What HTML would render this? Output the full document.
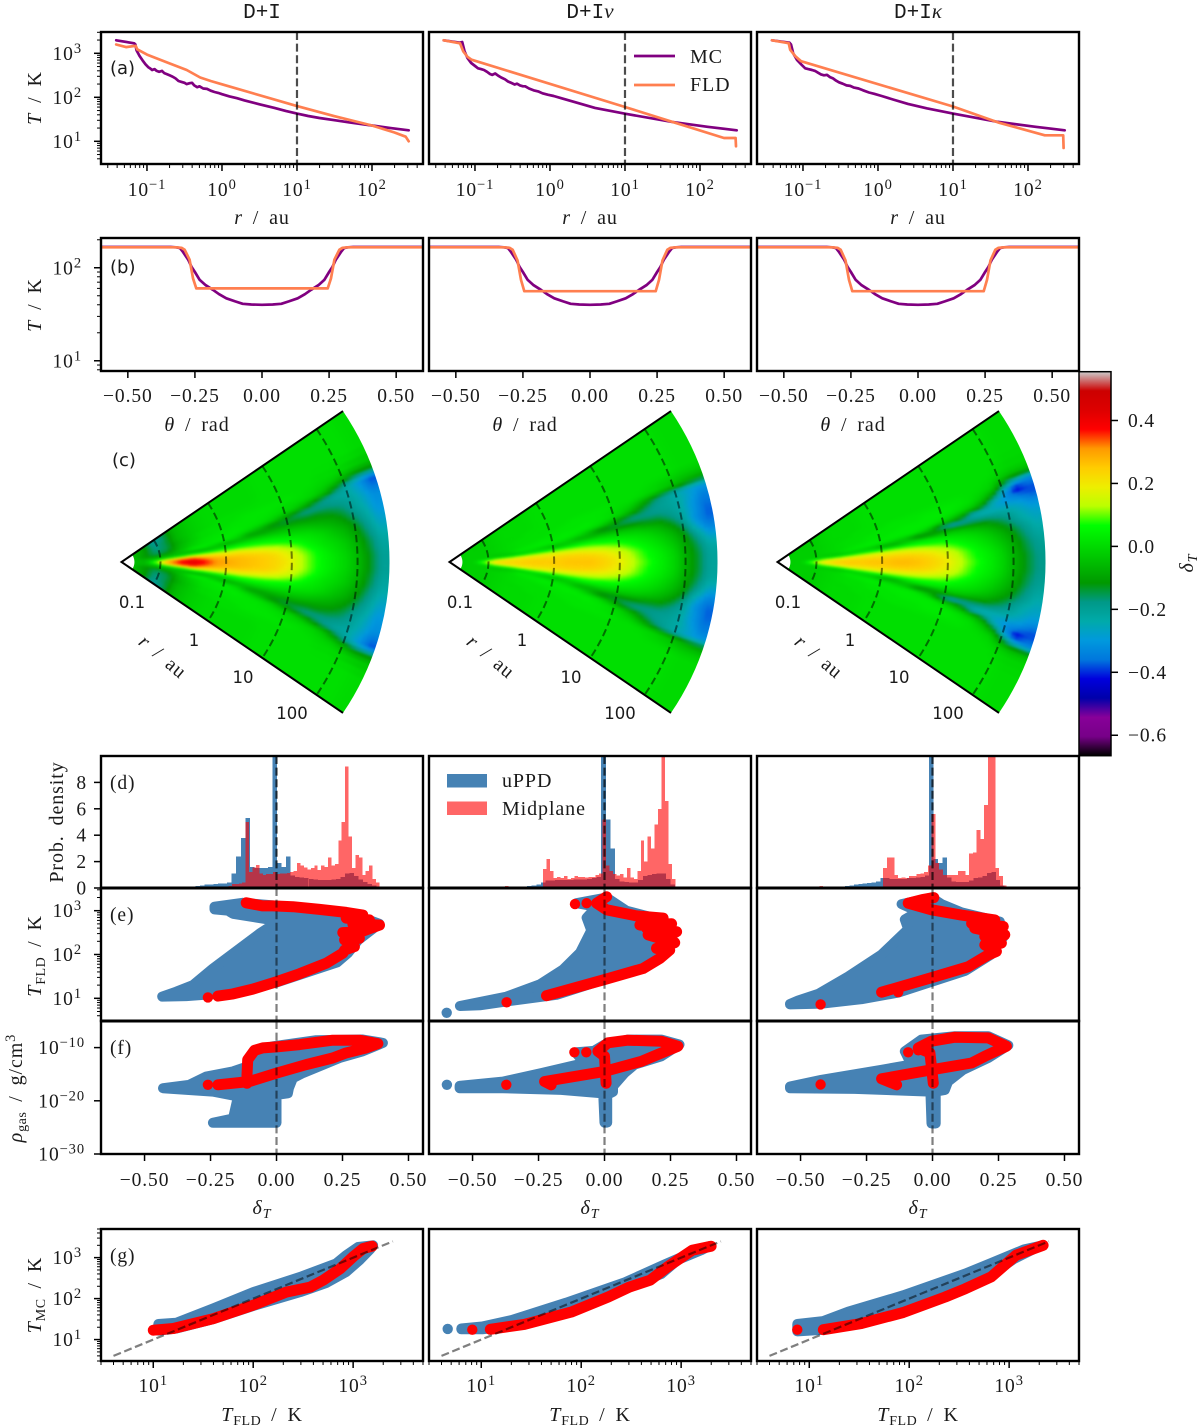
<!DOCTYPE html>
<html lang="en">
<head>
<meta charset="utf-8">
<title>Temperature comparison of D+I, D+Iν and D+Iκ</title>
<style>
html,body{margin:0;padding:0;background:#fff}
svg{display:block}
text{font-family:"Liberation Serif","DejaVu Serif",serif;fill:#1a1a1a}
.tick{font-size:19.5px;letter-spacing:.9px}
.axl{font-size:20px;letter-spacing:.9px;word-spacing:4px}
.sans{font-family:"DejaVu Sans","Liberation Sans",sans-serif;font-size:16px}
.mono{font-family:"Liberation Mono","DejaVu Sans Mono",monospace;font-size:21px}
</style>
</head>
<body>
<svg id="fig" xmlns="http://www.w3.org/2000/svg" width="1200" height="1428" viewBox="0 0 1200 1428">
<defs id="defs">
<filter id="soft" filterUnits="userSpaceOnUse" x="0" y="380" width="1100" height="370" color-interpolation-filters="sRGB"><feGaussianBlur stdDeviation="1.3"/></filter>
</defs>
</svg>
<script>
/* ---------- radial profiles, pairs of [log10 r/au, log10 T/K], one list per column ---------- */
const profileMC=[
[[-1.41,3.295],[-1.17,3.227],[-1.155,3.2],[-1.14,3.07],[-1.10,2.94],[-1.06,2.84],[-1.02,2.75],[-.98,2.68],[-.96,2.66],[-.93,2.62],[-.90,2.64],[-.87,2.6],[-.84,2.58],[-.8,2.6],[-.77,2.55],[-.74,2.53],[-.7,2.5],[-.66,2.47],[-.62,2.43],[-.58,2.37],[-.54,2.35],[-.5,2.33],[-.47,2.3],[-.43,2.32],[-.4,2.33],[-.37,2.27],[-.33,2.23],[-.3,2.25],[-.25,2.2],[-.2,2.19],[-.15,2.15],[-.1,2.12],[-.05,2.1],[0,2.07],[.1,2.02],[.2,1.98],[.3,1.93],[.5,1.84],[.7,1.76],[.85,1.69],[1,1.63],[1.15,1.575],[1.3,1.53],[1.5,1.48],[1.7,1.43],[2,1.36],[2.25,1.3],[2.49,1.25]],
[[-1.417,3.295],[-1.2,3.24],[-1.17,3.257],[-1.14,3.05],[-1.1,2.89],[-1.05,2.78],[-.99,2.7],[-.96,2.66],[-.92,2.64],[-.88,2.62],[-.84,2.58],[-.8,2.53],[-.77,2.51],[-.73,2.54],[-.69,2.49],[-.65,2.45],[-.6,2.41],[-.56,2.36],[-.52,2.33],[-.47,2.29],[-.44,2.31],[-.4,2.27],[-.36,2.25],[-.33,2.25],[-.28,2.2],[-.22,2.16],[-.15,2.13],[-.1,2.09],[-.03,2.06],[.05,2.03],[.15,1.98],[.33,1.89],[.6,1.76],[1,1.627],[1.63,1.44],[2.1,1.33],[2.49,1.25]],
[[-1.413,3.295],[-1.18,3.24],[-1.16,3.2],[-1.13,3.0],[-1.08,2.85],[-1.02,2.74],[-.97,2.66],[-.93,2.64],[-.88,2.62],[-.84,2.6],[-.8,2.56],[-.76,2.52],[-.72,2.5],[-.68,2.51],[-.64,2.46],[-.6,2.43],[-.56,2.38],[-.52,2.34],[-.47,2.31],[-.42,2.27],[-.37,2.26],[-.32,2.22],[-.26,2.2],[-.2,2.16],[-.12,2.11],[-.05,2.08],[.05,2.03],[.2,1.95],[.4,1.85],[.65,1.75],[1,1.63],[1.6,1.44],[2.1,1.33],[2.49,1.25]]
];
const profileFLD=[
[[-1.41,3.2],[-1.28,3.14],[-1.15,3.17],[-1.13,3.09],[-1,2.97],[-.88,2.89],[-.7,2.77],[-.47,2.62],[-.29,2.45],[-.15,2.37],[0,2.295],[1,1.8],[1.5,1.57],[2,1.36],[2.3,1.2],[2.45,1.105],[2.49,1.0]],
[[-1.417,3.295],[-1.2,3.227],[-1.157,3.045],[-1.1,2.92],[-1.047,2.855],[1,1.78],[1.633,1.44],[2.32,1.075],[2.475,1.075],[2.48,.886]],
[[-1.413,3.295],[-1.19,3.23],[-1.17,3.08],[-1.1,2.93],[-1.027,2.82],[1,1.79],[1.6,1.43],[2.224,1.136],[2.47,1.136],[2.475,.85]]
];
/* ---------- angular profiles ---------- */
const thetaMC=[-.6,-.34,-.32,-.306,-.296,-.275,-.263,-.25,-.232,-.21,-.183,-.16,-.133,-.1,-.072,-.04,0,.04,.072,.1,.133,.16,.183,.21,.232,.25,.263,.275,.296,.306,.32,.34,.6];
const tempMC=[167,167,166,163,150,122,103,90,74,65,58,52,47,43.5,41,40.3,40,40.3,41,43.5,47,52,58,65,74,90,103,122,150,163,166,167,167];
const thetaFLD=[-.6,-.32,-.3,-.288,-.27,-.257,-.245,.245,.257,.27,.288,.3,.32,.6];
const tempFLD=[
[166,166,164,156,122,77,60,60,77,122,156,164,166,166],
[166,166,164,156,120,74,56,56,74,120,156,164,166,166],
[166,166,164,156,120,74,56,56,74,120,156,164,166,166]
];
/* ---------- disc heatmap: delta_T x 100 by angle (rows) and log10 r (columns), mirrored about the midplane ---------- */
const wedgeTheta=[0,.03,.06,.09,.12,.15,.18,.21,.24,.27,.30,.33,.36,.39,.45,.5,.55,.6];
const wedgeLogR=[-1.4,-1.22,-1.04,-.86,-.68,-.5,-.32,-.14,.04,.22,.4,.58,.76,.94,1.12,1.3,1.48,1.66,1.84,2.02,2.2,2.38];
const wedgeDI=[
[-5,-6,14,30,38,42,37,31,29,27,26,25,23,20,14,9,5,2,-1,-6,-13,-20],
[-5,-6,10,28,36,40,35,30,28,27,26,25,23,19,14,9,5,2,-1,-6,-13,-20],
[-5,-6,3,18,27,32,28,26,25,25,24,23,21,17,12,8,4,1,-2,-7,-14,-21],
[-5,-6,-3,3,10,16,17,18,18,19,18,17,15,12,9,5,2,0,-3,-8,-15,-22],
[-5,-7,-5,-5,-3,2,4,6,8,9,9,9,8,7,5,3,1,-2,-5,-10,-17,-24],
[-5,-8,-8,-7,-5,-7,-7,-4,0,3,4,4,4,3,2,1,-1,-4,-7,-12,-19,-26],
[-5,-10,-12,-9,-4,3,3,-2,-8,-6,-3,-2,-2,-2,-2,-3,-5,-7,-10,-15,-21,-28],
[-5,-11,-15,-12,-5,0,2,3,3,-1,-10,-10,-8,-7,-7,-8,-9,-10,-13,-18,-23,-30],
[-5,-11,-16,-14,-6,-2,1,2,3,2,-1,-6,-13,-15,-14,-14,-13,-14,-16,-20,-25,-31],
[-5,-11,-16,-14,-6,-2,1,2,2,3,2,1,-1,-7,-14,-18,-18,-18,-19,-21,-26,-32],
[-5,-11,-17,-15,-7,-3,0,1,2,2,2,2,1,0,-1,-6,-14,-19,-22,-23,-28,-36],
[-5,-11,-17,-15,-7,-3,0,1,1,2,2,2,2,1,0,0,-1,-5,-14,-22,-30,-38],
[-5,-11,-18,-15,-7,-3,0,1,1,1,2,2,2,2,2,1,0,-1,-3,-8,-13,-14],
[-5,-10,-18,-15,-6,-3,-1,0,1,1,1,1,1,1,1,1,1,0,0,-1,-3,-4],
[-5,-10,-18,-15,-6,-3,-1,0,0,0,0,0,1,1,1,1,1,1,1,1,1,0],
[-5,-10,-19,-16,-6,-3,-1,0,0,0,0,0,1,1,1,1,1,1,1,1,1,0],
[-5,-10,-19,-16,-6,-3,-1,0,0,0,0,0,1,1,1,1,1,1,1,1,1,0],
[-5,-10,-19,-16,-6,-3,-1,0,0,0,0,0,1,1,1,1,1,1,1,1,1,0]
];
const wedgeDInu=[
[-2,-2,12,22,23,24,25,25,25,26,26,26,24,21,16,11,7,3,-1,-8,-14,-21],
[-2,-2,9,20,22,23,24,24,24,25,25,25,23,20,15,10,6,3,-1,-8,-14,-21],
[-2,-2,3,13,17,20,21,21,22,23,23,22,20,17,13,9,5,2,-2,-9,-15,-22],
[-2,-2,-1,2,5,10,13,15,16,16,16,15,14,12,9,6,3,0,-4,-10,-17,-25],
[-2,-2,-2,-3,-4,-3,0,3,6,8,9,9,8,7,5,3,1,-2,-6,-12,-21,-30],
[-2,-2,-2,-3,-1,3,1,-3,-6,-3,1,3,3,2,1,0,-2,-5,-9,-16,-27,-35],
[-2,-2,-2,-2,0,2,3,3,2,-1,-7,-7,-5,-4,-4,-5,-7,-9,-14,-20,-31,-37],
[-2,-2,-2,-1,0,1,2,3,3,3,1,-5,-14,-15,-14,-14,-15,-15,-18,-22,-30,-37],
[-2,-2,-2,-1,0,1,1,2,2,3,3,2,0,-6,-15,-18,-18,-19,-20,-23,-30,-36],
[-2,-2,-2,-1,0,1,1,1,2,2,2,3,2,1,-2,-8,-15,-19,-21,-23,-28,-34],
[-2,-2,-2,-1,0,1,1,1,1,2,2,2,2,1,0,-2,-8,-15,-20,-24,-28,-30],
[-2,-2,-2,-1,0,0,1,1,1,1,2,2,2,2,1,1,0,-1,-3,-5,-8,-10],
[-2,-2,-2,-1,0,0,1,1,1,1,1,1,1,1,1,1,1,0,-1,-2,-3,-3],
[-2,-2,-2,-1,0,0,0,1,1,1,1,1,1,1,1,1,1,1,1,1,0,0],
[-2,-2,-2,-1,0,0,0,1,1,1,1,1,1,1,1,1,1,1,1,1,0,0],
[-2,-2,-2,-1,0,0,0,1,1,1,1,1,1,1,1,1,1,1,1,1,0,0],
[-2,-2,-2,-1,0,0,0,1,1,1,1,1,1,1,1,1,1,1,1,1,0,0],
[-2,-2,-2,-1,0,0,0,1,1,1,1,1,1,1,1,1,1,1,1,1,0,0]
];
const wedgeDIkappa=[
[-2,-2,12,20,24,25,25,26,26,27,27,26,24,21,16,11,7,3,-1,-7,-13,-18],
[-2,-2,9,18,22,24,24,25,25,26,26,25,23,20,15,10,6,3,-1,-7,-13,-18],
[-2,-2,3,12,16,19,20,21,22,23,23,22,20,17,13,9,5,2,-2,-8,-14,-19],
[-2,-2,-1,2,5,10,13,15,16,16,16,15,14,12,9,6,3,0,-4,-9,-15,-20],
[-2,-2,-2,-3,-4,-3,0,3,5,7,8,8,7,7,5,3,1,-2,-6,-11,-17,-22],
[-2,-2,-2,-2,-1,2,0,-3,-9,-8,-2,2,3,2,1,0,-2,-5,-9,-14,-19,-24],
[-2,-2,-2,-1,0,2,3,3,2,-1,-5,-14,-13,-8,-5,-6,-8,-10,-14,-18,-23,-26],
[-2,-2,-2,-1,0,1,2,3,3,3,3,2,-4,-18,-22,-20,-18,-18,-19,-21,-25,-28],
[-2,-2,-2,-1,0,1,1,2,2,3,3,3,3,1,-4,-12,-24,-26,-26,-26,-28,-32],
[-2,-2,-2,-1,0,1,1,2,2,2,3,3,3,3,2,0,-4,-12,-27,-32,-34,-38],
[-2,-2,-2,-1,0,1,1,1,2,2,2,2,3,3,3,2,1,-3,-12,-30,-44,-38],
[-2,-2,-2,-1,0,0,1,1,1,2,2,2,2,2,2,2,1,0,-2,-14,-26,-32],
[-2,-2,-2,-1,0,0,1,1,1,1,1,1,1,1,1,1,1,1,0,-3,-6,-6],
[-2,-2,-2,-1,0,0,0,1,1,1,1,1,1,1,1,1,1,1,1,0,-1,-1],
[-2,-2,-2,-1,0,0,0,1,1,1,1,1,1,1,1,1,1,1,1,1,0,0],
[-2,-2,-2,-1,0,0,0,1,1,1,1,1,1,1,1,1,1,1,1,1,0,0],
[-2,-2,-2,-1,0,0,0,1,1,1,1,1,1,1,1,1,1,1,1,1,0,0],
[-2,-2,-2,-1,0,0,0,1,1,1,1,1,1,1,1,1,1,1,1,1,0,0]
];
const wedgeRadiusLabels=['0.1','1','10','100'];
/* ---------- probability-density histograms ---------- */
const histBlueStart=[-.4445,-.592,-.55];
const histBlueWidth=[.01717,.01755,.0168];
const histBlue=[
[.01,.01,.01,.02,.03,.04,.06,.1,.15,.2,.25,.28,.3,.33,.36,.42,1.1,2.4,3.8,5.3,1.6,1.5,1.5,1.5,1.6,40,1.9,1.6,2.4,.95,.85,.8,.75,.7,.65,.6,.6,.6,.65,.7,.85,1.1,1.15,.9,.65,.45,.3,.2,.1,.05],
[.01,.01,.01,.01,.01,.01,.01,.01,.01,.01,.01,.01,.02,.04,.07,.1,.13,.17,.2,.28,.4,.55,.55,.6,.6,.6,.6,.65,.65,.65,.7,.75,.85,40,5.2,3.0,.7,.5,.45,.42,.4,.6,.9,1.0,1.05,1.1,1.1,.7,.25,.05],
[.01,.01,.01,.01,.01,.01,.01,.01,.01,.03,.06,.09,.12,.15,.2,.25,.3,.33,.38,.42,.5,.75,.75,.7,.7,.7,.7,.75,.75,.8,.85,.95,40,2.2,1.9,2.3,.8,.5,.45,.45,.45,.55,.75,.8,.9,1.15,1.2,.6,.2,.05]
];
const histRedStart=[-.26,-.3775,-.429];
const histRedWidth=[.013,.0132,.0142];
const histRed=[
[.08,.1,.1,.1,.12,.12,.15,.3,.3,.35,.4,5.0,1.2,1.55,1.75,1.1,1.0,1.05,1.05,1.2,1.05,1.1,1.1,1.15,1.2,1.3,1.9,1.7,1.55,1.4,1.5,1.7,1.35,1.7,1.6,2.3,1.7,1.8,3.6,5.0,9.2,3.9,1.5,2.5,2.3,1.0,1.3,1.7,.7,.4],
[.15,0,0,0,0,0,0,0,0,0,0,1.45,2.2,1.3,.75,.85,.75,.9,.7,.75,.9,.85,.85,.8,.85,.85,1.0,1.1,5.2,1.7,1.3,1.05,.95,1.05,.8,1.5,.8,.7,1.3,3.6,2.0,3.9,3.0,4.8,6.0,10.5,6.6,1.8,.7,.1],
[.15,0,0,0,0,0,0,0,0,0,0,0,0,0,0,0,0,1.5,2.3,2.3,1.0,.75,.8,.75,.9,.9,1.05,1.1,1.2,1.7,5.6,1.9,1.4,1.0,1.0,1.0,1.0,1.3,1.3,1.0,2.6,2.7,4.4,3.7,6.3,10.5,10.5,1.5,.9,.2]
];
const probTicks=[0,2,4,6,8];
const deltaTicks=[-.5,-.25,0,.25,.5];
/* ---------- scatter outlines: [delta_T, log10 T_FLD] ---------- */
const uppdTemp=[
[[-.235,3.09],[-.128,3.18],[.087,3.07],[.3,2.9],[.39,2.7],[.31,2.33],[.27,2.03],[.23,1.82],[0,1.36],[-.165,1.13],[-.342,1.05],[-.433,1.04],[-.38,1.15],[-.317,1.3],[-.241,1.68],[-.064,2.48],[-.02,2.65],[-.02,2.79],[-.165,2.93],[-.184,3.0],[-.235,3.03]],
[[-.548,.825],[-.371,1.04],[-.245,1.32],[-.157,1.66],[-.093,2.04],[-.05,2.55],[-.068,2.84],[-.03,3.09],[-.106,3.17],[.008,3.3],[.083,3.0],[.21,2.8],[.268,2.52],[.23,2.18],[.19,1.9],[-.005,1.42],[-.182,1.08],[-.346,.95],[-.472,.84]],
[[-.54,.87],[-.509,.95],[-.433,1.1],[-.319,1.5],[-.193,2.0],[-.092,2.58],[-.105,2.8],[-.054,2.98],[-.117,3.15],[-.004,3.3],[.034,3.15],[.11,2.96],[.255,2.75],[.27,2.41],[.22,1.99],[.125,1.63],[-.13,1.13],[-.269,.98],[-.42,.88],[-.54,.86]]
];
const uppdTempDots=[[],[[-.598,.67]],[]];
const midTemp=[
[[-.222,1.05],[-.165,1.1],[-.09,1.21],[0,1.38],[.087,1.56],[.188,1.8],[.251,2.03],[.258,2.1],[.295,2.18],[.258,2.33],[.314,2.37],[.251,2.5],[.321,2.52],[.39,2.67],[.289,2.7],[.352,2.79],[.264,2.83],[.327,2.9],[.264,2.96],[.163,3.03],[.062,3.09],[-.014,3.11],[-.052,3.11],[-.09,3.15],[-.115,3.18]],
[[-.22,1.06],[-.005,1.42],[.146,1.68],[.21,1.91],[.247,2.1],[.197,2.14],[.266,2.27],[.165,2.45],[.254,2.47],[.273,2.52],[.159,2.6],[.254,2.7],[.134,2.67],[.222,2.83],[.121,2.88],[.008,3.02],[-.03,3.17],[.008,3.32]],
[[-.193,1.14],[-.004,1.47],[.135,1.72],[.211,1.99],[.242,2.07],[.198,2.22],[.261,2.26],[.198,2.41],[.274,2.45],[.16,2.6],[.268,2.64],[.148,2.71],[.236,2.79],[.11,2.9],[-.004,3.02],[-.092,3.17],[-.04,3.25],[.005,3.3]]
];
const midTempDots=[[[-.26,1.02]],[[-.371,.91],[-.112,3.15],[-.068,3.17]],[[-.424,.86],[-.13,1.14]]];
/* ---------- scatter outlines: [delta_T, log10 rho_gas] ---------- */
const uppdRho=[
[[-.43,-17.64],[-.33,-17],[-.266,-15.43],[-.165,-14.48],[-.109,-13.54],[-.09,-11],[-.014,-9.75],[.15,-8.61],[.327,-8.48],[.403,-9.12],[.327,-10.69],[.239,-11.96],[.1,-14.8],[.062,-15.75],[.047,-17.64],[.043,-18.59],[0,-18.9],[0,-24.14],[-.241,-24.14],[-.165,-23.32],[-.146,-19.2],[-.241,-18.27]],
[[-.549,-17.2],[-.385,-16.4],[-.24,-14.8],[-.076,-12.9],[-.11,-10.9],[-.04,-10.6],[0,-9.43],[.088,-8.5],[.215,-8.5],[.284,-9.43],[.215,-11.64],[.114,-13.2],[.076,-14.8],[.032,-17.3],[.032,-18.3],[.01,-18.9],[.01,-24.1],[0,-24.1],[-.005,-18.6],[-.164,-17.95],[-.385,-17.64],[-.549,-17.64]],
[[-.54,-17.32],[-.42,-16.06],[-.193,-14.17],[-.08,-13.2],[-.105,-10.7],[-.042,-8.5],[.085,-7.85],[.211,-7.85],[.287,-9.56],[.211,-11.96],[.116,-14.17],[.059,-16.38],[.047,-17.95],[.012,-18.27],[.012,-24.27],[-.004,-24.27],[-.008,-18.27],[-.294,-17.76],[-.54,-17.64]]
];
const uppdRhoDots=[[],[[-.597,-17]],[]];
const midRho=[
[[-.222,-17],[-.102,-16.38],[0,-14.8],[.112,-13.2],[.213,-11.96],[.264,-11],[.34,-10.06],[.384,-9.24],[.314,-8.6],[.213,-8.6],[.087,-9.43],[0,-9.87],[-.052,-10.06],[-.083,-10.5],[-.109,-12.27],[-.112,-15.1],[-.112,-16.7]],
[[-.202,-17],[-.227,-16.38],[0,-14.48],[.139,-12.6],[.202,-11.3],[.278,-9.75],[.215,-8.8],[.088,-8.6],[.013,-9.1],[-.025,-10.7],[0,-11.64],[.006,-16.7]],
[[-.136,-17],[-.193,-15.87],[-.004,-14.17],[.148,-12.9],[.198,-11.64],[.28,-9.75],[.211,-8.17],[.085,-8.04],[-.004,-8.8],[-.054,-10.06],[-.01,-11],[.003,-16.7]]
];
const midRhoDots=[[[-.26,-17]],[[-.372,-17],[-.114,-10.88],[-.069,-10.88]],[[-.424,-16.94],[-.092,-10.88],[-.054,-10.5]]];
/* ---------- T_MC against T_FLD: [log10 T_FLD, log10 T_MC] ---------- */
const uppdCompare=[
[[1.05,1.38],[1.23,1.41],[1.6,1.76],[2,2.16],[2.47,2.53],[2.83,2.86],[2.93,3.06],[3.05,3.26],[3.2,3.3],[3.17,3.2],[3.07,2.95],[2.93,2.65],[2.73,2.38],[2.47,2.16],[2,1.82],[1.6,1.5],[1.23,1.27],[1.05,1.22]],
[[.8,1.27],[1.01,1.32],[1.31,1.48],[1.85,1.9],[2.44,2.4],[2.82,2.82],[3.16,3.18],[3.28,3.28],[3.2,3.18],[2.97,2.95],[2.8,2.6],[2.48,2.28],[1.9,1.67],[1.43,1.37],[1.01,1.25],[.8,1.25]],
[[.88,1.38],[1.14,1.45],[1.39,1.68],[1.94,2.08],[2.56,2.61],[2.82,2.87],[3.15,3.2],[3.3,3.28],[3.24,3.2],[3.05,2.97],[2.84,2.62],[2.56,2.24],[1.94,1.66],[1.52,1.39],[1.14,1.24],[.88,1.2]]
];
const uppdCompareDots=[[],[[.664,1.26]],[]];
const midCompare=[
[[1,1.23],[1.2,1.27],[1.6,1.51],[2,1.84],[2.33,2.16],[2.57,2.28],[2.7,2.45],[2.87,2.73],[3,3.02],[3.1,3.22],[3.19,3.28]],
[[1.09,1.25],[1.43,1.37],[1.9,1.67],[2.27,2.04],[2.48,2.28],[2.69,2.45],[2.86,2.77],[3.11,3.18],[3.3,3.28]],
[[1.14,1.24],[1.52,1.39],[1.94,1.66],[2.36,2.04],[2.56,2.24],[2.82,2.53],[3.07,3.06],[3.34,3.3]]
];
const midCompareDots=[[],[[.91,1.24]],[[.88,1.24]]];
/* ---------- axis ticks ---------- */
const radiusDecades=[-1,0,1,2];
const tempDecades=[1,2,3];
const rhoDecades=[-10,-20,-30];
const thetaTicks=[-.5,-.25,0,.25,.5];
const colorbarTicks=[.4,.2,0,-.2,-.4,-.6];
const cmapPositions=[0,.05,.1,.15,.2,.25,.3,.35,.4,.45,.5,.55,.6,.65,.7,.75,.8,.85,.9,.95,1];
const cmapColors=[[0,0,0],[119,0,136],[136,0,153],[0,0,170],[0,0,221],[0,119,221],[0,153,221],[0,170,170],[0,153,136],[0,153,0],[0,187,0],[0,221,0],[0,255,0],[187,255,0],[238,238,0],[255,204,0],[255,153,0],[255,0,0],[221,0,0],[204,0,0],[204,204,204]];

/* ---------- helpers ---------- */
const NS='http://www.w3.org/2000/svg';
const fig=document.getElementById('fig');
const defs=document.getElementById('defs');
const COLX=[0,1,2].map(c=>101+328*c);
const W=322;
const BLUE='#4682b4',RED='#ff0000';
function mk(tag,attrs,name,parent){
  const el=document.createElementNS(NS,tag);
  for(const k in attrs)el.setAttribute(k,attrs[k]);
  
  
  parent.appendChild(el);
  return el;
}
function scale(d0,d1,r0,r1){return v=>r0+(v-d0)*(r1-r0)/(d1-d0);}
function txt(parent,name,x,y,html,cls,extra){
  const a=Object.assign({x:x,y:y,class:cls||'tick'},extra||{});
  const t=mk('text',a,name,parent);
  t.innerHTML=html;
  return t;
}
function rot(parent,name,x,y,html,cls){
  return txt(parent,name,x,y,html,cls||'axl',{'text-anchor':'middle',transform:'rotate(-90 '+x+' '+y+')'});
}
const it=s=>'<tspan font-style="italic">'+s+'</tspan>';
const sub=s=>'<tspan dy="4" font-size="14" letter-spacing="0.5">'+s+'</tspan><tspan dy="-4"> </tspan>';
function pow(parent,name,x,y,e,anchor){
  const s=String(e).replace('-','\u2212');
  return txt(parent,name,x,y,'10<tspan dy="-7" font-size="14.5">'+s+'</tspan>','tick',{'text-anchor':anchor});
}
function tick(parent,name,x1,y1,x2,y2,w){
  return mk('line',{x1:x1,y1:y1,x2:x2,y2:y2,stroke:'#000','stroke-width':w},name,parent);
}
function panel(name,x0,y0,y1){
  const g=mk('g',{},name,fig);
  const id='clip-'+name;
  const cp=mk('clipPath',{id:id},name+'-clip',defs);
  mk('rect',{x:x0,y:y0,width:W,height:y1-y0},name+'-clip-rect',cp);
  const inner=mk('g',{'clip-path':'url(#'+id+')'},name+'-plot-area',g);
  return {g:g,inner:inner};
}
function frame(p,name,x0,y0,y1){
  mk('rect',{x:x0,y:y0,width:W,height:y1-y0,fill:'none',stroke:'#000','stroke-width':2.4},name+'-frame',p.g);
}
function curve(parent,name,pairs,sx,sy,color,width){
  const d=pairs.map(q=>sx(q[0]).toFixed(1)+','+sy(q[1]).toFixed(1)).join(' ');
  return mk('polyline',{points:d,fill:'none',stroke:color,'stroke-width':width,'stroke-linejoin':'round','stroke-linecap':'round'},name,parent);
}
function blob(parent,name,pairs,sx,sy){
  const d=pairs.map(q=>sx(q[0]).toFixed(1)+','+sy(q[1]).toFixed(1)).join(' ');
  return mk('polygon',{points:d,fill:BLUE,stroke:BLUE,'stroke-width':10,'stroke-linejoin':'round'},name,parent);
}
function dots(parent,name,pairs,sx,sy,color){
  pairs.forEach(q=>{
    mk('circle',{cx:sx(q[0]).toFixed(1),cy:sy(q[1]).toFixed(1),r:5.2,fill:color},name,parent);
  });
}
function dash(parent,name,x1,y1,x2,y2,alpha){
  return mk('line',{x1:x1,y1:y1,x2:x2,y2:y2,stroke:'#000','stroke-opacity':alpha,'stroke-width':2.2,'stroke-dasharray':'8 3.6'},name,parent);
}
function minorMultiples(lo,hi,fn){
  for(let d=Math.floor(lo);d<hi;d++){
    for(let m=2;m<10;m++){
      const v=d+Math.log10(m);
      if(v>=lo&&v<=hi)fn(v);
    }
  }
}
function logYTicks(p,name,sy,x0,lo,hi,decades){
  minorMultiples(lo,hi,v=>{tick(p.g,name+'-minor-tick',x0,sy(v),x0-4,sy(v),1);});
  decades.forEach(e=>{
    tick(p.g,name+'-major-tick',x0,sy(e),x0-7,sy(e),1.5);
    pow(p.g,name+'-tick-label',82,sy(e)+6.5,e,'end');
  });
}
function logXTicks(p,name,sx,y,lo,hi,decades,labelY){
  minorMultiples(lo,hi,v=>{tick(p.g,name+'-minor-tick',sx(v),y,sx(v),y+4,1);});
  decades.forEach(e=>{
    tick(p.g,name+'-major-tick',sx(e),y,sx(e),y+7,1.5);
    pow(p.g,name+'-tick-label',sx(e),labelY,e,'middle');
  });
}
function fmt(v){return (v<0?'\u2212':'')+Math.abs(v).toFixed(2);}
function cmap(v){
  const f=Math.min(1,Math.max(0,(v+.665)/1.22));
  let i=0;
  while(i<cmapPositions.length-2&&f>cmapPositions[i+1])i++;
  const t=(f-cmapPositions[i])/(cmapPositions[i+1]-cmapPositions[i]);
  const c=[0,1,2].map(k=>Math.round(cmapColors[i][k]+t*(cmapColors[i+1][k]-cmapColors[i][k])));
  return 'rgb('+c.join(',')+')';
}

/* ---------- titles ---------- */
const columnTitles=['D+I','D+I<tspan font-family="Liberation Serif" font-style="italic">\u03bd</tspan>','D+I<tspan font-family="Liberation Serif" font-style="italic">\u03ba</tspan>'];
const columnCenters=[262,590,918];
columnTitles.forEach((t,c)=>{
  txt(fig,'column-title-'+c,columnCenters[c],18,t,'mono',{'text-anchor':'middle'});
});

/* ---------- row (a) ---------- */
[0,1,2].forEach(c=>{
  const x0=COLX[c],name='radial-profile-'+c;
  const p=panel(name,x0,32,164);
  const sx=scale(-1.613,2.68,x0,x0+W),sy=scale(.484,3.484,164,32);
  curve(p.inner,'mc-curve',profileMC[c],sx,sy,'#800080',2.7);
  curve(p.inner,'fld-curve',profileFLD[c],sx,sy,'#ff7f50',2.7);
  dash(p.inner,'ten-au-marker',sx(1),32,sx(1),164,.7);
  logXTicks(p,name+'-x',sx,164,-1.613,2.68,radiusDecades,196);
  txt(p.g,'radius-axis-title',x0+161,224,it('r')+' / au','axl',{'text-anchor':'middle'});
  if(c===0){
    logYTicks(p,name+'-y',sy,x0,.484,3.484,tempDecades);
    rot(p.g,'temperature-axis-title',41,98,it('T')+' / K');
    txt(p.g,'panel-label-a',110,74,'(a)','sans',{style:'font-size:18px'});
  }
  if(c===1){
    tick(p.g,'legend-mc-line',634,56,675,56,2.7).setAttribute('stroke','#800080');
    tick(p.g,'legend-fld-line',634,85,675,85,2.7).setAttribute('stroke','#ff7f50');
    txt(p.g,'legend-mc-label',690,63,'MC','axl');
    txt(p.g,'legend-fld-label',690,91,'FLD','axl');
  }
  frame(p,name,x0,32,164);
});

/* ---------- row (b) ---------- */
[0,1,2].forEach(c=>{
  const x0=COLX[c],name='angular-profile-'+c;
  const p=panel(name,x0,238,371);
  const sx=scale(-.6,.6,x0,x0+W),sy=scale(.89,2.32,371,238);
  const mc=thetaMC.map((t,i)=>[t,Math.log10(tempMC[i])]);
  const fld=thetaFLD.map((t,i)=>[t,Math.log10(tempFLD[c][i])]);
  curve(p.inner,'mc-curve',mc,sx,sy,'#800080',2.7);
  curve(p.inner,'fld-curve',fld,sx,sy,'#ff7f50',2.7);
  thetaTicks.forEach(t=>{
    tick(p.g,name+'-x-tick',sx(t),371,sx(t),378,1.5);
    txt(p.g,name+'-x-tick-label',sx(t),402,fmt(t),'tick',{'text-anchor':'middle'});
  });
  txt(p.g,'theta-axis-title',x0+96,431,it('\u03b8')+' / rad','axl',{'text-anchor':'middle'});
  if(c===0){
    logYTicks(p,name+'-y',sy,x0,.89,2.32,[1,2]);
    rot(p.g,'temperature-axis-title',41,305,it('T')+' / K');
    txt(p.g,'panel-label-b',110,273,'(b)','sans',{style:'font-size:18px'});
  }
  frame(p,name,x0,238,371);
});

/* ---------- row (c): disc heatmaps ---------- */
const wedgeFields=[wedgeDI,wedgeDInu,wedgeDIkappa];
const WEDGE_APEX=[121.5,449.5,777.5];
[0,1,2].forEach(c=>{
  const ax=WEDGE_APEX[c],ay=562;
  const name='disc-heatmap-'+c;
  const g=mk('g',{},name,fig);
  const rOf=lg=>39+65.7*(lg+1);
  const pt=(th,lg)=>{const R=rOf(lg);return (ax+R*Math.cos(th)).toFixed(1)+','+(ay-R*Math.sin(th)).toFixed(1);};
  const A=.598,RO=268,RI=13;
  const tx=(r,th)=>(ax+r*Math.cos(th)).toFixed(1),ty=(r,th)=>(ay-r*Math.sin(th)).toFixed(1);
  const cid='wedge-clip-'+c;
  const cp=mk('clipPath',{id:cid},'wedge-clip',defs);
  mk('path',{d:'M'+tx(RI,A)+' '+ty(RI,A)+'L'+tx(RO,A)+' '+ty(RO,A)+'A'+RO+' '+RO+' 0 0 1 '+tx(RO,-A)+' '+ty(RO,-A)+'L'+tx(RI,-A)+' '+ty(RI,-A)+'A'+RI+' '+RI+' 0 0 0 '+tx(RI,A)+' '+ty(RI,A)+'Z'},'wedge-clip-shape',cp);
  const clipG=mk('g',{'clip-path':'url(#'+cid+')'},name+'-clipped',g);
  const cells=mk('g',{filter:'url(#soft)'},name+'-cells',clipG);
  const field=wedgeFields[c];
  const last=wedgeTheta.length-1;
  /* nodes of the angular grid from the lower to the upper edge, padded past the wedge sides */
  const nodes=[{th:-.72,v:field[last]}];
  for(let i=last;i>0;i--)nodes.push({th:-wedgeTheta[i],v:field[i]});
  for(let i=0;i<=last;i++)nodes.push({th:wedgeTheta[i],v:field[i]});
  nodes.push({th:.72,v:field[last]});
  /* radial nodes, padded past the inner and outer rims */
  const lgNodes=[-1.7].concat(wedgeLogR,[2.7]);
  const valueAt=(row,j)=>row.v[Math.max(0,Math.min(row.v.length-1,j-1))];
  const SUBT=2,SUBR=3;
  for(let i=0;i<nodes.length-1;i++){
    for(let j=0;j<lgNodes.length-1;j++){
      const v00=valueAt(nodes[i],j),v01=valueAt(nodes[i],j+1),v10=valueAt(nodes[i+1],j),v11=valueAt(nodes[i+1],j+1);
      const th0=nodes[i].th,th1=nodes[i+1].th,lg0=lgNodes[j],lg1=lgNodes[j+1];
      for(let a=0;a<SUBT;a++){
        for(let b=0;b<SUBR;b++){
          const ta=(a+.5)/SUBT,tb=(b+.5)/SUBR;
          const val=(v00*(1-ta)+v10*ta)*(1-tb)+(v01*(1-ta)+v11*ta)*tb;
          const col=cmap(val/100);
          const tA=th0+(th1-th0)*a/SUBT,tB=th0+(th1-th0)*(a+1)/SUBT;
          const rA=lg0+(lg1-lg0)*b/SUBR,rB=lg0+(lg1-lg0)*(b+1)/SUBR;
          mk('polygon',{points:[pt(tA,rA),pt(tB,rA),pt(tB,rB),pt(tA,rB)].join(' '),fill:col,stroke:col,'stroke-width':.6},'heatmap-cell',cells);
        }
      }
    }
  }
  radiusDecades.forEach(lg=>{
    const R=rOf(lg);
    mk('path',{d:'M'+tx(R,A)+' '+ty(R,A)+'A'+R+' '+R+' 0 0 1 '+tx(R,-A)+' '+ty(R,-A),fill:'none',stroke:'#000','stroke-opacity':.5,'stroke-width':2,'stroke-dasharray':'7.4 4'},'radius-contour',g);
  });
  mk('polyline',{points:tx(RO,A)+','+ty(RO,A)+' '+ax+','+ay+' '+tx(RO,-A)+','+ty(RO,-A),fill:'none',stroke:'#000','stroke-width':2},'wedge-edge',g);
  const labelDX=[10.5,72.5,121.5,170.5],labelDY=[46,84,121,157];
  wedgeRadiusLabels.forEach((s,i)=>{
    txt(g,'radius-label',ax+labelDX[i],ay+labelDY[i],s,'sans',{'text-anchor':'middle',style:'font-size:16.5px'});
  });
  txt(g,'wedge-radius-title',ax+41,ay+101,it('r')+' / au','axl',{'text-anchor':'middle',transform:'rotate(40 '+(ax+41)+' '+(ay+95)+')'});
  if(c===0)txt(g,'panel-label-c',112,466,'(c)','sans',{style:'font-size:18px'});
});

/* ---------- colour bar ---------- */
(function(){
  const g=mk('g',{},'colorbar',fig);
  const grad=mk('linearGradient',{id:'nipy',x1:0,y1:1,x2:0,y2:0},'colorbar-gradient',defs);
  cmapPositions.forEach((p,i)=>{
    mk('stop',{offset:p,'stop-color':'rgb('+cmapColors[i].join(',')+')'},'colorbar-stop',grad);
  });
  mk('rect',{x:1079,y:371.7,width:32,height:384,fill:'url(#nipy)',stroke:'#000','stroke-width':1.5},'colorbar-ramp',g);
  const sy=scale(.555,-.665,371.7,755.7);
  colorbarTicks.forEach(v=>{
    tick(g,'colorbar-tick',1111,sy(v),1118,sy(v),1.5);
    txt(g,'colorbar-tick-label',1128,sy(v)+6.5,(v<0?'\u2212':'')+Math.abs(v).toFixed(1),'tick');
  });
  rot(g,'colorbar-title',1193,563,it('\u03b4')+'<tspan dy="4" font-size="14" font-style="italic">T</tspan>');
})();

/* ---------- row (d): histograms ---------- */
[0,1,2].forEach(c=>{
  const x0=COLX[c],name='histogram-'+c;
  const p=panel(name,x0,756,888);
  const sx=scale(-.665,.555,x0,x0+W),sy=scale(0,10,888,756);
  histBlue[c].forEach((v,i)=>{
    const l=histBlueStart[c]+i*histBlueWidth[c];
    const wpx=sx(l+histBlueWidth[c])-sx(l);
    mk('rect',{x:sx(l).toFixed(2),y:sy(v).toFixed(2),width:wpx.toFixed(2),height:(888-sy(v)).toFixed(2),fill:BLUE,'shape-rendering':'crispEdges'},'uppd-bar',p.inner);
  });
  histRed[c].forEach((v,i)=>{
    const l=histRedStart[c]+i*histRedWidth[c];
    const wpx=sx(l+histRedWidth[c])-sx(l);
    mk('rect',{x:sx(l).toFixed(2),y:sy(v).toFixed(2),width:wpx.toFixed(2),height:(888-sy(v)).toFixed(2),fill:RED,'fill-opacity':.6,'shape-rendering':'crispEdges'},'midplane-bar',p.inner);
  });
  dash(p.inner,'zero-delta-marker',sx(0),756,sx(0),888,.7);
  if(c===0){
    probTicks.forEach(v=>{
      tick(p.g,name+'-y-tick',x0,sy(v),x0-7,sy(v),1.5);
      txt(p.g,name+'-y-tick-label',87,sy(v)+6.5,String(v),'tick',{'text-anchor':'end'});
    });
    rot(p.g,'probability-axis-title',63,822,'Prob. density');
    txt(p.g,'panel-label-d',110,789,'(d)','tick');
  }
  if(c===1){
    mk('rect',{x:447,y:774,width:40,height:13.5,fill:BLUE},'legend-uppd-swatch',p.g);
    mk('rect',{x:447,y:801.5,width:40,height:13.5,fill:RED,'fill-opacity':.6},'legend-midplane-swatch',p.g);
    txt(p.g,'legend-uppd-label',502,787,'uPPD','axl');
    txt(p.g,'legend-midplane-label',502,815,'Midplane','axl');
  }
  frame(p,name,x0,756,888);
});

/* ---------- rows (e), (f): scatter against delta_T ---------- */
function scatterRow(rowName,y0,y1,d0,d1,outlines,outlineDots,mids,midDots,deco){
  [0,1,2].forEach(c=>{
    const x0=COLX[c],name=rowName+'-'+c;
    const p=panel(name,x0,y0,y1);
    const sx=scale(-.665,.555,x0,x0+W),sy=scale(d0,d1,y1,y0);
    blob(p.inner,'uppd-scatter',outlines[c],sx,sy);
    dots(p.inner,'uppd-point',outlineDots[c],sx,sy,BLUE);
    curve(p.inner,'midplane-scatter',mids[c],sx,sy,RED,11);
    dots(p.inner,'midplane-point',midDots[c],sx,sy,RED);
    dash(p.inner,'zero-delta-marker',sx(0),y0,sx(0),y1,.5);
    deco(p,name,c,x0,sx,sy);
    frame(p,name,x0,y0,y1);
    tick(p.g,name+'-shared-top-edge',x0-1,y0,x0+W+1,y0,3);
  });
}
scatterRow('temperature-scatter',888,1021,.482,3.518,uppdTemp,uppdTempDots,midTemp,midTempDots,(p,name,c,x0,sx,sy)=>{
  if(c===0){
    logYTicks(p,name+'-y',sy,x0,.482,3.518,tempDecades);
    rot(p.g,'t-fld-axis-title',41,956,it('T')+sub('FLD')+'/ K');
    txt(p.g,'panel-label-e',110,921,'(e)','tick');
  }
});
scatterRow('density-scatter',1021,1154,-30,-5,uppdRho,uppdRhoDots,midRho,midRhoDots,(p,name,c,x0,sx,sy)=>{
  deltaTicks.forEach(t=>{
    tick(p.g,name+'-x-tick',sx(t),1154,sx(t),1161,1.5);
    txt(p.g,name+'-x-tick-label',sx(t),1186,fmt(t),'tick',{'text-anchor':'middle'});
  });
  txt(p.g,'delta-axis-title',x0+161,1214,it('\u03b4')+'<tspan dy="4" font-size="14" font-style="italic">T</tspan>','axl',{'text-anchor':'middle'});
  if(c===0){
    rhoDecades.forEach(e=>{
      tick(p.g,name+'-y-tick',x0,sy(e),x0-7,sy(e),1.5);
      pow(p.g,name+'-y-tick-label',85,sy(e)+6.5,e,'end');
    });
    rot(p.g,'density-axis-title',22,1088,it('\u03c1')+sub('gas')+'/ g/cm<tspan dy="-7" font-size="14.5">3</tspan>');
    txt(p.g,'panel-label-f',110,1054,'(f)','tick');
  }
});

/* ---------- row (g) ---------- */
[0,1,2].forEach(c=>{
  const x0=COLX[c],name='mc-vs-fld-'+c;
  const p=panel(name,x0,1229,1361);
  const sx=scale(.477,3.699,x0,x0+W),sy=scale(.477,3.699,1361,1229);
  blob(p.inner,'uppd-scatter',uppdCompare[c],sx,sy);
  dots(p.inner,'uppd-point',uppdCompareDots[c],sx,sy,BLUE);
  curve(p.inner,'midplane-scatter',midCompare[c],sx,sy,RED,11);
  dots(p.inner,'midplane-point',midCompareDots[c],sx,sy,RED);
  dash(p.inner,'identity-line',sx(.602),sy(.602),sx(3.398),sy(3.398),.5);
  logXTicks(p,name+'-x',sx,1361,.477,3.699,tempDecades,1392);
  txt(p.g,'t-fld-axis-title',x0+161,1421,it('T')+sub('FLD')+'/ K','axl',{'text-anchor':'middle'});
  if(c===0){
    logYTicks(p,name+'-y',sy,x0,.477,3.699,tempDecades);
    rot(p.g,'t-mc-axis-title',41,1295,it('T')+sub('MC')+'/ K');
    txt(p.g,'panel-label-g',110,1262,'(g)','tick');
  }
  frame(p,name,x0,1229,1361);
});
</script>
</body>
</html>
